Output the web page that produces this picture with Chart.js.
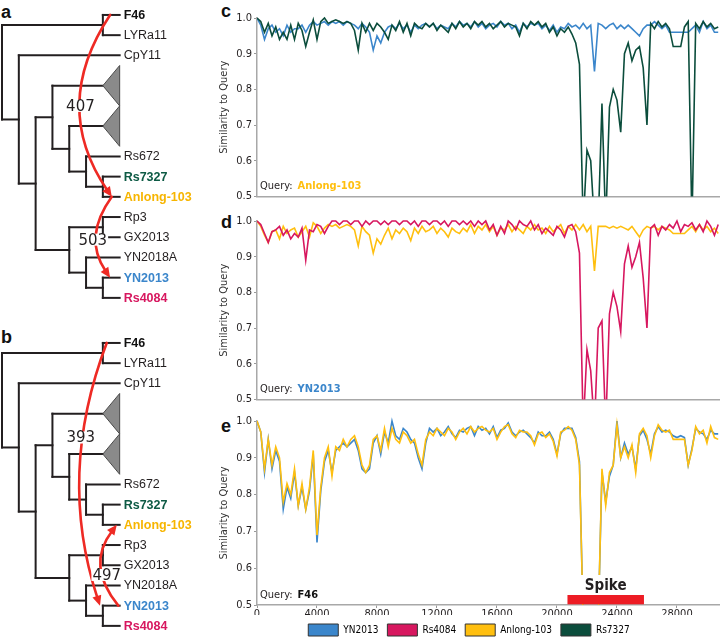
<!DOCTYPE html>
<html>
<head>
<meta charset="utf-8">
<script src="https://cdn.jsdelivr.net/npm/chart.js@4.4.1/dist/chart.umd.min.js"></script>
<style>
  html, body { margin:0; padding:0; background:#fff; overflow:hidden; }
  body { width:720px; height:637px; position:relative; }
  canvas { position:absolute; }
  .panel { position:absolute; font: bold 18px "Liberation Sans", Arial, sans-serif; color:#111; line-height:18px; }
</style>
</head>
<body>
<div class="panel" style="left:1px;top:3px">a</div>
<div class="panel" style="left:1px;top:328px">b</div>
<div class="panel" style="left:221px;top:2px">c</div>
<div class="panel" style="left:221px;top:213px">d</div>
<div class="panel" style="left:221px;top:417px">e</div>
<canvas id="treeA" width="200" height="310" style="left:0;top:0"></canvas>
<canvas id="treeB" width="200" height="310" style="left:0;top:328px"></canvas>
<canvas id="chartC" width="502" height="205" style="left:218px;top:0"></canvas>
<canvas id="chartD" width="502" height="205" style="left:218px;top:203px"></canvas>
<canvas id="chartE" width="502" height="243" style="left:218px;top:403px"></canvas>
<script>
// ---------------- DATA ----------------
const seriesNames  = ['YN2013', 'Rs4084', 'Anlong-103', 'Rs7327'];
const seriesColors = ['#3b86cb', '#d7175f', '#ffbf0f', '#0b4d3c'];
const windowStep = 250;              // bp between window positions
const xTickValues = [0, 4000, 8000, 12000, 16000, 20000, 24000, 28000];
const yTickValues = [0.5, 0.6, 0.7, 0.8, 0.9, 1.0];
const xMax = 30870;
const spikeRegion = [20700, 25800];
const spikeLabel = 'Spike';

// panel c : query Anlong-103
const c_YN2013 = [
1.0,0.98,0.94,0.97,0.98,0.96,0.97,0.95,0.98,0.96,
0.97,0.97,0.98,0.96,0.98,0.99,0.98,0.985,0.99,0.98,
0.99,0.985,0.99,0.98,0.99,0.985,0.98,0.97,0.985,0.975,
0.96,0.91,0.95,0.93,0.96,0.975,0.98,0.97,0.985,0.97,
0.98,0.96,0.98,0.97,0.98,0.985,0.975,0.985,0.97,0.98,
0.975,0.97,0.985,0.975,0.99,0.98,0.985,0.975,0.99,0.975,
0.985,0.97,0.98,0.985,0.975,0.99,0.98,0.985,0.97,0.98,
0.96,0.985,0.975,0.985,0.98,0.985,0.97,0.98,0.965,0.98,
0.96,0.975,0.97,0.985,0.975,0.98,0.97,0.985,0.97,0.98,
0.85,0.985,0.98,0.97,0.98,0.985,0.97,0.98,0.97,0.98,
0.97,0.96,0.95,0.97,0.98,0.98,0.99,0.98,0.97,0.98,
0.96,0.96,0.96,0.96,0.96,0.96,0.97,0.98,0.96,0.99,
0.97,0.98,0.96,0.96];
const c_Rs7327 = [
1.0,0.99,0.96,0.985,0.95,0.975,0.94,0.96,0.94,0.98,
0.94,0.985,0.965,0.92,0.96,0.995,0.94,0.99,1.0,0.985,
0.99,0.995,0.99,0.985,0.99,0.985,0.965,0.91,0.985,0.96,
0.985,0.965,0.985,0.975,0.96,0.94,0.98,0.965,0.99,0.96,
0.985,0.95,0.985,0.975,0.97,0.985,0.975,0.985,0.965,0.98,
0.97,0.96,0.985,0.97,0.99,0.975,0.985,0.97,0.99,0.98,
0.99,0.975,0.985,0.97,0.98,0.99,0.975,0.985,0.98,0.975,
0.95,0.985,0.97,0.99,0.98,0.99,0.975,0.985,0.96,0.975,
0.95,0.97,0.96,0.975,0.955,0.93,0.87,0.42,0.63,0.60,
0.42,0.42,0.76,0.42,0.75,0.80,0.77,0.68,0.90,0.93,
0.88,0.91,0.92,0.86,0.70,0.985,0.97,0.99,0.975,0.985,
0.97,0.92,0.92,0.92,0.975,0.99,0.42,0.985,0.97,0.99,
0.975,0.985,0.97,0.975];

// panel d : query YN2013
const d_Rs4084 = [
1.0,0.99,0.965,0.94,0.97,0.975,0.985,0.96,0.975,0.95,
0.965,0.955,0.98,0.89,0.975,0.97,0.99,0.985,0.965,0.985,
1.0,1.0,0.99,1.0,1.0,0.99,1.0,1.0,0.985,1.0,
0.99,1.0,1.0,0.99,1.0,0.99,1.0,1.0,0.99,1.0,
1.0,0.99,1.0,0.985,1.0,1.0,0.99,1.0,1.0,0.99,
1.0,0.985,1.0,1.0,0.99,1.0,0.99,1.0,0.985,1.0,
0.99,1.0,0.975,0.99,0.96,0.985,0.965,1.0,0.99,0.975,
1.0,0.99,0.985,1.0,0.975,0.99,0.965,0.98,0.97,0.96,
0.985,0.975,0.955,0.985,0.99,0.97,0.91,0.42,0.64,0.58,
0.42,0.70,0.72,0.42,0.74,0.80,0.76,0.69,0.88,0.93,
0.87,0.90,0.94,0.84,0.70,0.98,0.99,0.96,0.985,0.975,
0.99,0.98,1.0,0.97,0.99,0.985,0.995,0.975,0.99,0.97,
1.0,0.985,0.96,0.99];
const d_Anlong103 = [
1.0,0.985,0.96,0.94,0.97,0.975,0.95,0.985,0.965,0.975,
0.98,0.955,0.97,0.985,0.955,0.995,0.985,0.965,0.98,0.99,
0.985,0.99,0.98,0.985,0.99,0.985,0.975,0.93,0.985,0.97,
0.96,0.91,0.95,0.935,0.96,0.98,0.95,0.975,0.965,0.98,
0.97,0.945,0.98,0.965,0.985,0.97,0.975,0.985,0.965,0.98,
0.97,0.955,0.98,0.97,0.965,0.98,0.97,0.99,0.965,0.985,
0.975,0.99,0.97,0.985,0.96,0.98,0.975,0.99,0.97,0.985,
0.975,0.965,0.985,0.975,0.99,0.975,0.98,0.965,0.985,0.97,
0.98,0.99,0.965,0.985,0.975,0.99,0.975,0.99,0.97,0.985,
0.86,0.985,0.985,0.985,0.98,0.985,0.98,0.985,0.98,0.975,
0.985,0.97,0.955,0.975,0.985,0.98,0.985,0.975,0.985,0.98,
0.975,0.965,0.965,0.965,0.965,0.975,0.985,0.97,0.99,0.975,
0.985,0.97,0.98,0.965];

// panel e : query F46
const e_YN2013 = [
1.0,0.97,0.86,0.95,0.87,0.92,0.89,0.76,0.82,0.79,
0.86,0.77,0.82,0.76,0.81,0.91,0.67,0.81,0.89,0.92,
0.86,0.92,0.93,0.94,0.93,0.94,0.95,0.92,0.87,0.86,
0.87,0.94,0.96,0.91,0.97,0.94,1.0,0.96,0.95,0.98,
0.97,0.95,0.94,0.90,0.87,0.94,0.98,0.97,0.98,0.96,
0.97,0.985,0.965,0.955,0.975,0.97,0.98,0.985,0.96,0.985,
0.975,0.98,0.965,0.985,0.955,0.975,0.98,0.995,0.97,0.96,
0.97,0.975,0.965,0.955,0.94,0.97,0.96,0.96,0.97,0.95,
0.91,0.965,0.98,0.98,0.98,0.955,0.89,0.45,0.40,0.40,
0.40,0.45,0.86,0.78,0.85,0.88,1.0,0.90,0.94,0.91,
0.93,0.87,0.96,0.975,0.95,0.91,0.965,0.985,0.97,0.975,
0.97,0.96,0.955,0.96,0.955,0.88,0.925,0.98,0.97,0.965,
0.95,0.975,0.965,0.965];
const e_Anlong103 = [
1.0,0.97,0.87,0.95,0.88,0.93,0.90,0.78,0.83,0.80,
0.87,0.77,0.83,0.76,0.82,0.92,0.69,0.82,0.90,0.93,
0.85,0.93,0.92,0.95,0.93,0.95,0.96,0.93,0.88,0.86,
0.88,0.95,0.96,0.92,0.98,0.93,0.98,0.95,0.94,0.97,
0.96,0.94,0.95,0.91,0.88,0.95,0.97,0.96,0.98,0.97,
0.96,0.98,0.97,0.95,0.97,0.98,0.965,0.985,0.97,0.98,
0.985,0.975,0.97,0.98,0.95,0.97,0.985,0.99,0.965,0.955,
0.975,0.97,0.97,0.96,0.935,0.965,0.97,0.955,0.965,0.945,
0.905,0.97,0.975,0.985,0.975,0.95,0.88,0.45,0.40,0.40,
0.40,0.45,0.87,0.77,0.86,0.88,0.99,0.90,0.93,0.90,
0.935,0.86,0.965,0.98,0.96,0.90,0.96,0.99,0.975,0.97,
0.975,0.95,0.95,0.95,0.95,0.88,0.92,0.985,0.965,0.975,
0.94,0.985,0.955,0.95];

// tree (cladogram topology, collapsed clades drawn as triangles)
const treeTopology = [['F46','LYRa11'], ['CpY11', [['clade1', ['clade2', ['Rs672', ['Rs7327','Anlong-103']]]], [['Rp3','GX2013'], ['YN2018A', ['YN2013','Rs4084']]]]]];
const collapsedClades = ['clade1', 'clade2'];
const boldTaxa = {'F46':'#111111', 'Rs7327':'#0d5a44', 'Anlong-103':'#f7b500', 'YN2013':'#3b86cb', 'Rs4084':'#d7175f'};
const eventsA = [{from:'F46', to:'Anlong-103', count:'407'}, {from:'Anlong-103', to:'YN2013', count:'503'}];
const eventsB = [{from:'F46', to:'YN2013', count:'393'}, {from:'YN2013', to:'Anlong-103', count:'497'}];

// ---------------- DRAWING ----------------
const FONT = '"DejaVu Sans Condensed", "DejaVu Sans", sans-serif';
const TREE_FONT = '"Liberation Sans", Arial, sans-serif';
const RED = '#ee2a24';
const colorOf = n => seriesColors[seriesNames.indexOf(n)];

// arrow styling (curve bend & label placement) per panel
const arrowStyles = {
  treeA: [{x0:6.43, x1:6.53, bend:2.85, t:0.5, dx:0}, {x0:6.53, x1:6.43, bend:4.8, t:0.53, dx:-4}],
  treeB: [{x0:6.23, x1:5.83, bend:3.25, t:0.36, dx:-2}, {x0:6.92, x1:6.83, bend:4.98, t:0.38, dx:4}]
};
const treeEvents = {treeA: eventsA, treeB: eventsB};

function layoutTree(topo) {
  let cursor = 0;
  const tips = {};
  const lay = node => {
    if (typeof node === 'string') {
      const collapsed = collapsedClades.includes(node);
      const row = collapsed ? cursor + 0.5 : cursor;
      cursor += collapsed ? 2 : 1;
      tips[node] = row;
      return {h:0, y:row, name:node, collapsed};
    }
    const kids = node.map(lay);
    return {h: Math.max(...kids.map(k => k.h)) + 1, y: (kids[0].y + kids[kids.length-1].y) / 2, kids};
  };
  const root = lay(topo);
  return {root, tips};
}

const treePlugin = {
  id: 'treeDraw',
  afterDraw(chart) {
    const {ctx} = chart;
    const xs = chart.scales.x, ys = chart.scales.y;
    const X = v => xs.getPixelForValue(v), Y = v => ys.getPixelForValue(v);
    const {root, tips} = layoutTree(treeTopology);
    const H = root.h;
    ctx.save();
    ctx.strokeStyle = '#231f20'; ctx.lineWidth = 2; ctx.lineCap = 'square';
    const leaves = [];
    const drawNode = n => {
      if (!n.kids) { leaves.push(n); return; }
      const nx = X(H - n.h);
      ctx.beginPath(); ctx.moveTo(nx, Y(n.kids[0].y)); ctx.lineTo(nx, Y(n.kids[n.kids.length-1].y)); ctx.stroke();
      n.kids.forEach(k => {
        const kx = k.kids ? H - k.h : (k.collapsed ? H - 1 : H);
        ctx.beginPath(); ctx.moveTo(nx, Y(k.y)); ctx.lineTo(X(kx), Y(k.y)); ctx.stroke();
        drawNode(k);
      });
    };
    drawNode(root);
    leaves.forEach(l => {
      if (l.collapsed) {
        ctx.beginPath();
        ctx.moveTo(X(H - 1), Y(l.y)); ctx.lineTo(X(H), Y(l.y - 1)); ctx.lineTo(X(H), Y(l.y + 1)); ctx.closePath();
        ctx.fillStyle = '#8a8a8a'; ctx.fill();
        ctx.lineWidth = 1; ctx.strokeStyle = '#4a4a4a'; ctx.lineCap = 'butt'; ctx.stroke();
        ctx.lineWidth = 2; ctx.strokeStyle = '#231f20'; ctx.lineCap = 'square';
      } else {
        const bold = boldTaxa[l.name];
        ctx.font = (bold ? 'bold ' : '') + '12.5px ' + TREE_FONT;
        ctx.fillStyle = bold || '#231f20';
        ctx.textBaseline = 'middle'; ctx.textAlign = 'left';
        ctx.fillText(l.name, X(H) + 4, Y(l.y) + 0.5);
      }
    });
    // recombination arrows
    const evs = treeEvents[chart.canvas.id], sts = arrowStyles[chart.canvas.id];
    const labels = [];
    evs.forEach((ev, i) => {
      const st = sts[i];
      const r0 = tips[ev.from], r1 = tips[ev.to];
      const p0 = {x: X(st.x0), y: Y(r0)}, p1 = {x: X(st.x1), y: Y(r1)}, c = {x: X(st.bend), y: Y((r0 + r1) / 2)};
      const ang = Math.atan2(p1.y - c.y, p1.x - c.x);
      const L = 10, W = 4.6;
      const bx = p1.x - L * Math.cos(ang), by = p1.y - L * Math.sin(ang);
      ctx.strokeStyle = RED; ctx.lineWidth = 2.6; ctx.lineCap = 'round';
      ctx.beginPath(); ctx.moveTo(p0.x, p0.y);
      ctx.quadraticCurveTo(c.x, c.y, bx + 2 * Math.cos(ang), by + 2 * Math.sin(ang)); ctx.stroke();
      ctx.fillStyle = RED; ctx.beginPath(); ctx.moveTo(p1.x, p1.y);
      ctx.lineTo(bx - W * Math.sin(ang), by + W * Math.cos(ang));
      ctx.lineTo(bx + W * Math.sin(ang), by - W * Math.cos(ang)); ctx.closePath(); ctx.fill();
      const t = st.t;
      const lx = (1-t)*(1-t)*p0.x + 2*(1-t)*t*c.x + t*t*p1.x + st.dx;
      const ly = (1-t)*(1-t)*p0.y + 2*(1-t)*t*c.y + t*t*p1.y;
      labels.push({text: ev.count, x: lx, y: ly});
    });
    ctx.font = '15px "DejaVu Sans", sans-serif';
    ctx.textAlign = 'center'; ctx.textBaseline = 'middle';
    labels.forEach(l => {
      const w = ctx.measureText(l.text).width;
      ctx.fillStyle = '#fff'; ctx.fillRect(l.x - w/2 - 1, l.y - 6, w + 2, 12);
      ctx.fillStyle = '#231f20'; ctx.fillText(l.text, l.x, l.y + 1);
    });
    ctx.restore();
  }
};

function treeChart(id) {
  return new Chart(document.getElementById(id), {
    type: 'scatter',
    data: { datasets: [] },
    options: {
      responsive: false, animation: false, events: [],
      layout: { padding: 0 },
      plugins: { legend: {display:false}, tooltip: {enabled:false} },
      scales: {
        x: { type:'linear', display:false, min:-0.12, max:11.78 },
        y: { type:'linear', display:false, min:-0.74, max:14.6, reverse:true }
      }
    },
    plugins: [treePlugin]
  });
}
treeChart('treeA');
treeChart('treeB');

// line charts
const positions = c_YN2013.map((_, i) => i * windowStep);
const queryInfo = {
  chartC: {name:'Anlong-103', color: colorOf('Anlong-103')},
  chartD: {name:'YN2013', color: colorOf('YN2013')},
  chartE: {name:'F46', color:'#111111', spike:true}
};

const annotPlugin = {
  id: 'queryLabel',
  afterDatasetsDraw(chart) {
    const q = queryInfo[chart.canvas.id];
    const {ctx, chartArea: a} = chart;
    ctx.save();
    if (q.spike) {
      const xs = chart.scales.x;
      const x0 = xs.getPixelForValue(spikeRegion[0]), x1 = xs.getPixelForValue(spikeRegion[1]);
      ctx.fillStyle = '#fff'; ctx.fillRect(x0, a.bottom - 30, x1 - x0, 20);
      ctx.fillStyle = '#ed1c24'; ctx.fillRect(x0, a.bottom - 10, x1 - x0, 9.3);
      ctx.font = 'bold 15px ' + FONT; ctx.fillStyle = '#231f20';
      ctx.textAlign = 'center'; ctx.textBaseline = 'middle';
      ctx.fillText(spikeLabel, (x0 + x1) / 2, a.bottom - 19);
    }
    ctx.textAlign = 'left'; ctx.textBaseline = 'middle';
    ctx.font = '11px ' + FONT; ctx.fillStyle = '#231f20';
    const x = a.left + 3, y = a.bottom - 10;
    ctx.fillText('Query:', x, y);
    const w = ctx.measureText('Query:').width;
    ctx.font = 'bold 11px ' + FONT; ctx.fillStyle = q.color;
    ctx.fillText(q.name, x + w + 5, y);
    ctx.restore();
  }
};

function lineChart(id, series, bottomPanel) {
  const opts = {
    responsive: false, animation: false, events: [],
    layout: { padding: {top:18, left:0, right:0, bottom:0} },
    plugins: { legend: {display:false}, tooltip: {enabled:false} },
    scales: {
      x: {
        type:'linear', min:0, max:xMax,
        afterFit: s => { s.height = bottomPanel ? 10 : 3; },
        afterBuildTicks: s => { s.ticks = xTickValues.map(v => ({value: v})); },
        ticks: {display: bottomPanel, autoSkip:false, maxRotation:0,
                font:{family:FONT, size:11}, color:'#231f20', padding:0, callback: v => String(v)},
        grid: {display: bottomPanel, drawOnChartArea:false, drawTicks: bottomPanel, tickLength:3, color:'#999'},
        border: {display:true, color:'#a8a8a8', width:1.5}
      },
      y: {
        min:0.5, max:1.0,
        afterFit: s => { s.width = 39; },
        afterBuildTicks: s => { s.ticks = yTickValues.map(v => ({value: v})); },
        ticks: {font:{family:FONT, size:11}, color:'#231f20', padding:2, callback: v => v.toFixed(1)},
        grid: {display:true, drawOnChartArea:false, drawTicks:true, tickLength:3, color:'#999'},
        border: {display:true, color:'#a8a8a8', width:1.5},
        title: {display:true, text:'Similarity to Query', font:{family:FONT, size:11}, color:'#333', padding:{top:0, bottom:0}}
      }
    }
  };
  if (bottomPanel) {
    opts.plugins.legend = {
      display:true, position:'bottom',
      labels: {
        boxWidth:30, boxHeight:12, padding:9, color:'#231f20', font:{family:FONT, size:10},
        generateLabels: () => seriesNames.map((n, i) => ({text:n, fillStyle:seriesColors[i], strokeStyle:'#333', lineWidth:1, hidden:false, datasetIndex:i}))
      }
    };
  }
  return new Chart(document.getElementById(id), {
    type: 'line',
    data: { datasets: series.map(s => ({
      label: s.name,
      data: s.values.map((v, i) => ({x: positions[i], y: v})),
      borderColor: colorOf(s.name), borderWidth: 1.6, pointRadius: 0, tension: 0, fill: false,
      clip: {left:0, right:0, top:4, bottom:0}
    })) },
    options: opts,
    plugins: [annotPlugin]
  });
}

// first dataset is drawn on top
lineChart('chartC', [{name:'Rs7327', values:c_Rs7327}, {name:'YN2013', values:c_YN2013}], false);
lineChart('chartD', [{name:'Rs4084', values:d_Rs4084}, {name:'Anlong-103', values:d_Anlong103}], false);
lineChart('chartE', [{name:'Anlong-103', values:e_Anlong103}, {name:'YN2013', values:e_YN2013}], true);
</script>
</body>
</html>
